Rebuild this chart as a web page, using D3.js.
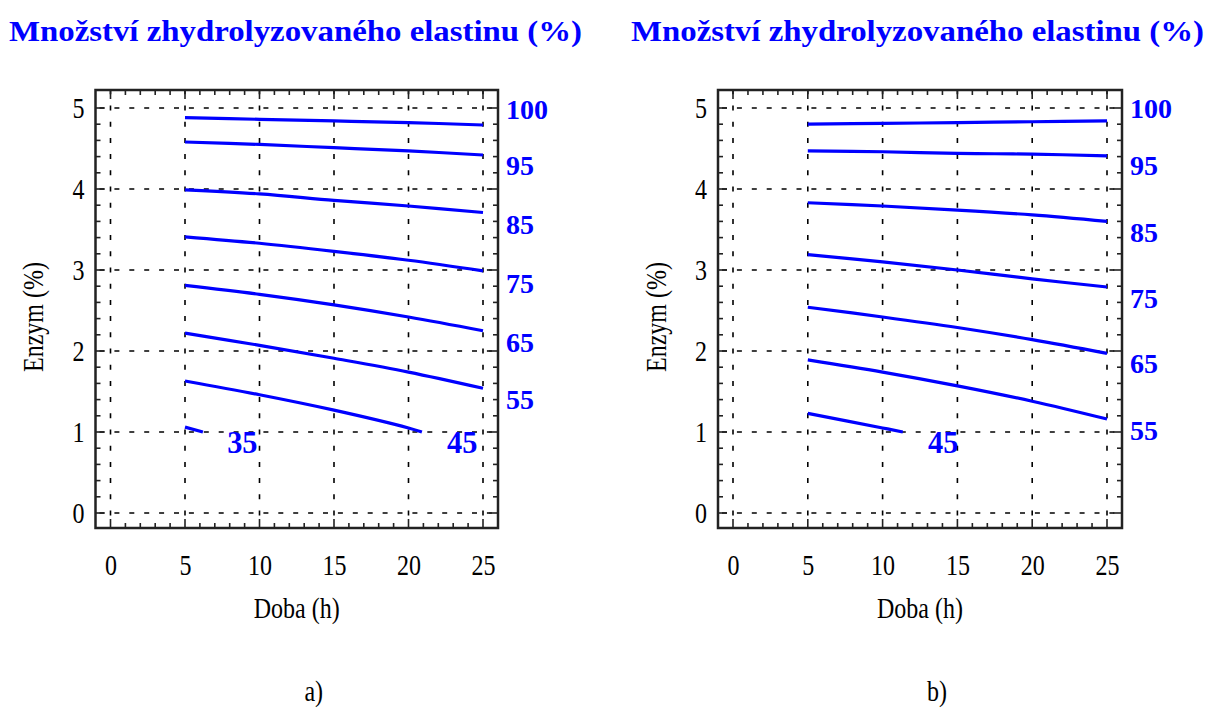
<!DOCTYPE html>
<html>
<head>
<meta charset="utf-8">
<script src="https://cdn.jsdelivr.net/npm/d3@7/dist/d3.min.js"></script>
<style>
  body { margin: 0; background: #fff; }
  svg { display: block; }
</style>
</head>
<body>
<svg id="chart" width="1209" height="708"></svg>
<script>
// hours at which the contour lines were read
const doba = [5, 10, 15, 20, 25]

// panel a) — Enzym (%) along each contour line
const enzymA = [
  [4.88, 4.86, 4.84, 4.82, 4.79],
  [4.58, 4.55, 4.51, 4.47, 4.42],
  [3.99, 3.94, 3.86, 3.79, 3.71],
  [3.41, 3.33, 3.23, 3.12, 2.99],
  [2.81, 2.70, 2.57, 2.42, 2.25],
  [2.22, 2.07, 1.91, 1.74, 1.54]
]
const shortA45 = { doba: [5, 10, 15, 20, 20.9], enzym: [1.63, 1.46, 1.27, 1.05, 1.0] }
const shortA35 = { doba: [5, 6.2], enzym: [1.06, 1.0] }

// panel b)
const enzymB = [
  [4.80, 4.81, 4.82, 4.83, 4.84],
  [4.47, 4.46, 4.44, 4.43, 4.41],
  [3.83, 3.79, 3.74, 3.68, 3.60],
  [3.19, 3.10, 3.00, 2.89, 2.79],
  [2.54, 2.42, 2.29, 2.14, 1.97],
  [1.89, 1.74, 1.57, 1.38, 1.16]
]
const shortB45 = { doba: [5, 10, 11.35], enzym: [1.23, 1.05, 1.0] }

// labels of the contour levels on the right side (value of Enzym where they sit)
const levelLabels = ['100', '95', '85', '75', '65', '55']
const levelYA = [4.98, 4.30, 3.56, 2.84, 2.11, 1.40]
const levelYB = [5.0, 4.30, 3.47, 2.65, 1.85, 1.02]

// labels inside the plot
const innerA = [{ text: '35', doba: 8.85, enzym: 0.88 }, { text: '45', doba: 23.6, enzym: 0.88 }]
const innerB = [{ text: '45', doba: 14.05, enzym: 0.88 }]

const xTicks = [0, 5, 10, 15, 20, 25]
const yTicks = [0, 1, 2, 3, 4, 5]

const titleText = 'Množství zhydrolyzovaného elastinu (%)'
const BLUE = '#0000ff'
const SERIF = '"Liberation Serif", "Times New Roman", serif'
const SQUEEZE = 0.8

const svg = d3.select('#chart')

/**
 * Draws one of the two panels.
 */
function drawPanel (cfg) {
  const x = d3.scaleLinear().domain([0, 25]).range(cfg.xRange)
  const y = d3.scaleLinear().domain([0, 5]).range([513, 108])
  const g = svg.append('g')

  const left = x(0) - 15
  const right = x(25) + 15
  const top = 90
  const bottom = 528

  // dashed grid
  g.selectAll('.hgrid')
    .data(yTicks)
    .join('line')
    .attr('x1', left).attr('x2', right)
    .attr('y1', d => y(d)).attr('y2', d => y(d))
    .attr('stroke', '#000')
    .attr('stroke-width', 1.6)
    .attr('stroke-dasharray', '5,9.9')
    .attr('stroke-dashoffset', -4)

  const step = y(0) - y(0.2)
  g.selectAll('.vgrid')
    .data(xTicks)
    .join('line')
    .attr('x1', d => x(d)).attr('x2', d => x(d))
    .attr('y1', y(0) + 2.5).attr('y2', top)
    .attr('stroke', '#000')
    .attr('stroke-width', 1.6)
    .attr('stroke-dasharray', `5,${step - 5}`)

  // inward ticks on all sides
  const xMinor = d3.range(0, 26)
  const yMinor = d3.range(0, 26).map(i => i / 5)
  const tick = g.append('g').attr('stroke', '#222').attr('stroke-width', 1.6)
  xMinor.forEach(v => {
    const len = v % 5 === 0 ? 9 : 5
    tick.append('line').attr('x1', x(v)).attr('x2', x(v)).attr('y1', top).attr('y2', top + len)
    tick.append('line').attr('x1', x(v)).attr('x2', x(v)).attr('y1', bottom).attr('y2', bottom - len)
  })
  yMinor.forEach((v, i) => {
    const len = i % 5 === 0 ? 9 : 5
    tick.append('line').attr('x1', left).attr('x2', left + len).attr('y1', y(v)).attr('y2', y(v))
    tick.append('line').attr('x1', right).attr('x2', right - len).attr('y1', y(v)).attr('y2', y(v))
  })

  g.append('rect')
    .attr('x', left).attr('y', top)
    .attr('width', right - left).attr('height', bottom - top)
    .attr('fill', 'none')
    .attr('stroke', '#222')
    .attr('stroke-width', 2.5)

  // contour lines
  const line = d3.line().x(d => x(d[0])).y(d => y(d[1])).curve(d3.curveCatmullRom)
  const series = cfg.lines.map(vals => doba.map((h, i) => [h, vals[i]]))
  cfg.shorts.forEach(s => series.push(s.doba.map((h, i) => [h, s.enzym[i]])))
  g.selectAll('.contour')
    .data(series)
    .join('path')
    .attr('d', line)
    .attr('fill', 'none')
    .attr('stroke', BLUE)
    .attr('stroke-width', 3.2)
    .attr('stroke-linecap', 'butt')

  // level labels on the right
  g.selectAll('.level')
    .data(levelLabels)
    .join('text')
    .attr('x', right + 8)
    .attr('y', (d, i) => y(cfg.levelY[i]))
    .attr('dy', '0.35em')
    .attr('font-family', SERIF)
    .attr('font-weight', 'bold')
    .attr('font-size', 28)
    .attr('fill', BLUE)
    .text(d => d)

  g.selectAll('.inner')
    .data(cfg.inner)
    .join('text')
    .attr('transform', d => `translate(${x(d.doba)},${y(d.enzym)}) scale(0.95,1)`)
    .attr('text-anchor', 'middle')
    .attr('dy', '0.35em')
    .attr('font-family', SERIF)
    .attr('font-weight', 'bold')
    .attr('font-size', 32)
    .attr('fill', BLUE)
    .text(d => d.text)

  // axes (labels only)
  const xAxis = g.append('g')
    .attr('transform', 'translate(0,554)')
    .call(d3.axisBottom(x).tickValues(xTicks).tickSize(0).tickPadding(0))
  const yAxis = g.append('g')
    .attr('transform', `translate(${left},0)`)
    .call(d3.axisLeft(y).tickValues(yTicks).tickFormat(d3.format('d')).tickSize(0).tickPadding(0))
  ;[xAxis, yAxis].forEach(ax => {
    ax.select('.domain').remove()
    ax.selectAll('text')
      .attr('font-family', SERIF)
      .attr('font-size', 30)
      .attr('fill', '#000')
      .attr('transform', `scale(${SQUEEZE},1)`)
  })
  yAxis.selectAll('text').attr('x', -11 / SQUEEZE)

  const mid = (left + right) / 2
  g.append('text')
    .attr('transform', `translate(${mid},607) scale(${SQUEEZE},1)`)
    .attr('text-anchor', 'middle')
    .attr('dy', '0.35em')
    .attr('font-family', SERIF)
    .attr('font-size', 30)
    .text('Doba (h)')

  g.append('text')
    .attr('transform', `translate(${left - 63},317) rotate(-90) scale(${SQUEEZE},1)`)
    .attr('text-anchor', 'middle')
    .attr('dy', '0.35em')
    .attr('font-family', SERIF)
    .attr('font-size', 30)
    .text('Enzym (%)')

  g.append('text')
    .attr('transform', `translate(${mid + 17},690) scale(${SQUEEZE},1)`)
    .attr('text-anchor', 'middle')
    .attr('dy', '0.35em')
    .attr('font-family', SERIF)
    .attr('font-size', 30)
    .text(cfg.tag)

  g.append('text')
    .attr('x', cfg.titleX)
    .attr('y', 30)
    .attr('dy', '0.35em')
    .attr('font-family', SERIF)
    .attr('font-weight', 'bold')
    .attr('font-size', 30)
    .attr('fill', BLUE)
    .attr('textLength', 573)
    .attr('lengthAdjust', 'spacingAndGlyphs')
    .text(titleText)
}

drawPanel({
  xRange: [110.5, 483],
  lines: enzymA,
  shorts: [shortA45, shortA35],
  levelY: levelYA,
  inner: innerA,
  tag: 'a)',
  titleX: 9
})

drawPanel({
  xRange: [733, 1107],
  lines: enzymB,
  shorts: [shortB45],
  levelY: levelYB,
  inner: innerB,
  tag: 'b)',
  titleX: 631
})
</script>
</body>
</html>
